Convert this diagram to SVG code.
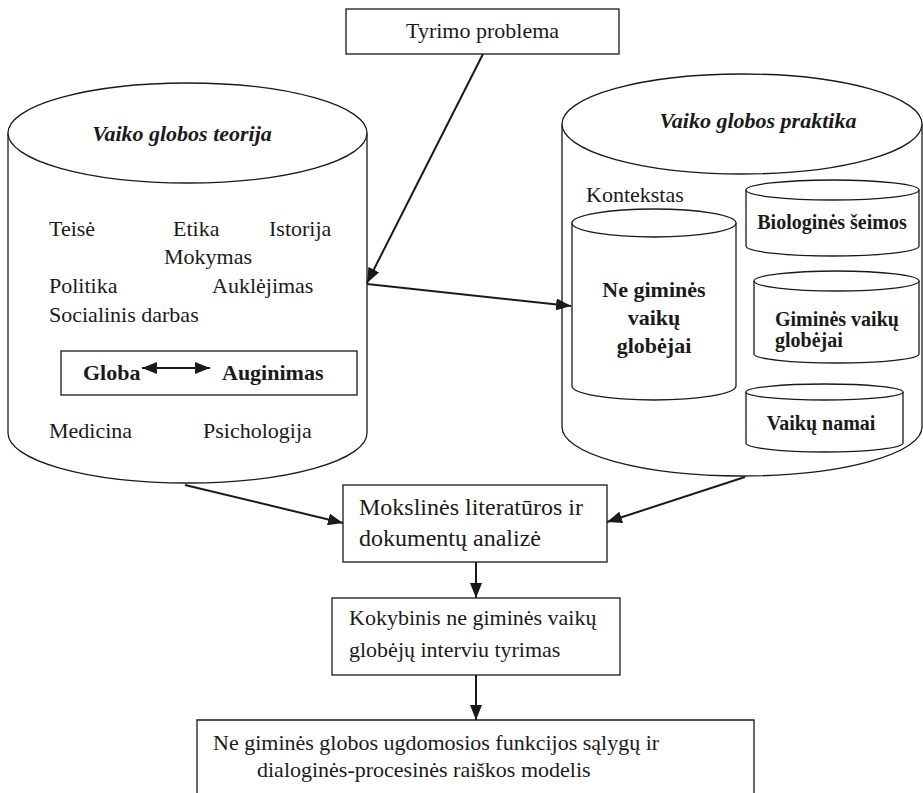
<svg xmlns="http://www.w3.org/2000/svg" width="923" height="793" viewBox="0 0 923 793">
<style>
text{font-family:"Liberation Serif","Times New Roman",serif;fill:#1a1a1a;}
.t{font-size:22px;}
.m{font-size:24px;}
.b{font-size:22px;font-weight:bold;}
.b20{font-size:20px;font-weight:bold;}
.bi{font-size:22px;font-weight:bold;font-style:italic;}
.s{fill:#fff;stroke:#1a1a1a;stroke-width:1.3;}
.n{fill:none;stroke:#1a1a1a;stroke-width:1.3;}
.c{fill:none;stroke:#1a1a1a;stroke-width:2;}
</style>
<defs>
<marker id="ah" markerUnits="userSpaceOnUse" markerWidth="16" markerHeight="12" refX="15" refY="6" orient="auto-start-reverse">
<path d="M0,0 L15,6 L0,12 Z" fill="#1a1a1a"/>
</marker>
</defs>
<rect width="923" height="793" fill="#fff"/>

<g id="tyrimo">
<rect class="s" x="346" y="9" width="273" height="45"/>
<text class="t" x="406" y="38">Tyrimo problema</text>
</g>

<g id="teorija">
<path class="s" d="M8,133 L8,433 A179.5,50 0 0 0 367,433 L367,133"/>
<ellipse class="s" cx="187.5" cy="133" rx="179.5" ry="50"/>
<text class="bi" x="182" y="141" text-anchor="middle">Vaiko globos teorija</text>
<text class="t" x="49" y="236">Teisė</text>
<text class="t" x="173" y="236">Etika</text>
<text class="t" x="269" y="236">Istorija</text>
<text class="t" x="164" y="264">Mokymas</text>
<text class="t" x="49" y="293">Politika</text>
<text class="t" x="212" y="293">Auklėjimas</text>
<text class="t" x="49" y="322">Socialinis darbas</text>
<text class="t" x="49" y="438">Medicina</text>
<text class="t" x="203" y="438">Psichologija</text>
</g>

<g id="globa">
<rect class="s" x="61" y="351" width="296" height="44"/>
<text class="b" x="83" y="380">Globa</text>
<line class="c" x1="142" y1="368" x2="210" y2="368" marker-start="url(#ah)" marker-end="url(#ah)"/>
<text class="b" x="222" y="380">Auginimas</text>
</g>

<g id="praktika">
<path class="s" d="M562,124 L562,427 A180,49 0 0 0 922,427 L922,124"/>
<ellipse class="s" cx="742" cy="124" rx="180" ry="50"/>
<text class="bi" x="758" y="128" text-anchor="middle">Vaiko globos praktika</text>
<text class="t" x="586" y="202">Kontekstas</text>
</g>

<g id="ne-gimines">
<path class="s" d="M572,223 L572,386 A82,14 0 0 0 736,386 L736,223"/>
<ellipse class="s" cx="654" cy="223" rx="82" ry="14"/>
<text class="b" x="654" y="297" text-anchor="middle">Ne giminės</text>
<text class="b" x="654" y="325" text-anchor="middle">vaikų</text>
<text class="b" x="654" y="353" text-anchor="middle">globėjai</text>
</g>

<g id="biologines">
<path class="s" d="M746,190 L746,246 A86.5,10 0 0 0 919,246 L919,190"/>
<ellipse class="s" cx="832.5" cy="190" rx="86.5" ry="10"/>
<text class="b20" x="832" y="229" text-anchor="middle">Biologinės šeimos</text>
</g>

<g id="gimines">
<path class="s" d="M754,281 L754,354 A82.5,9 0 0 0 919,354 L919,281"/>
<ellipse class="s" cx="836.5" cy="281" rx="82.5" ry="10"/>
<text class="b20" x="775" y="326">Giminės vaikų</text>
<text class="b20" x="775" y="347">globėjai</text>
</g>

<g id="vaiku-namai">
<path class="s" d="M746,392 L746,443 A78.5,9 0 0 0 903,443 L903,392"/>
<ellipse class="s" cx="824.5" cy="392" rx="78.5" ry="8"/>
<text class="b20" x="821" y="430" text-anchor="middle">Vaikų namai</text>
</g>

<g id="mokslines">
<rect class="s" x="343" y="485" width="264" height="77"/>
<text class="m" x="359" y="515">Mokslinės literatūros ir</text>
<text class="m" x="359" y="546">dokumentų analizė</text>
</g>

<g id="kokybinis">
<rect class="s" x="332" y="598" width="288" height="77"/>
<text class="t" x="349" y="625">Kokybinis ne giminės vaikų</text>
<text class="t" x="349" y="657">globėjų interviu tyrimas</text>
</g>

<g id="modelis">
<path class="n" d="M197,794 L197,720 L754,720 L754,794"/>
<text class="t" x="213" y="750">Ne giminės globos ugdomosios funkcijos sąlygų ir</text>
<text class="t" x="257" y="777">dialoginės-procesinės raiškos modelis</text>
</g>

<g id="connectors">
<line class="c" x1="483" y1="54" x2="367" y2="283" marker-end="url(#ah)"/>
<line class="c" x1="367" y1="284" x2="571" y2="306" marker-end="url(#ah)"/>
<line class="c" x1="185" y1="485" x2="343" y2="523" marker-end="url(#ah)"/>
<line class="c" x1="745" y1="477" x2="607" y2="522" marker-end="url(#ah)"/>
<line class="c" x1="476" y1="562" x2="476" y2="598" marker-end="url(#ah)"/>
<line class="c" x1="476" y1="675" x2="476" y2="720" marker-end="url(#ah)"/>
</g>
</svg>
